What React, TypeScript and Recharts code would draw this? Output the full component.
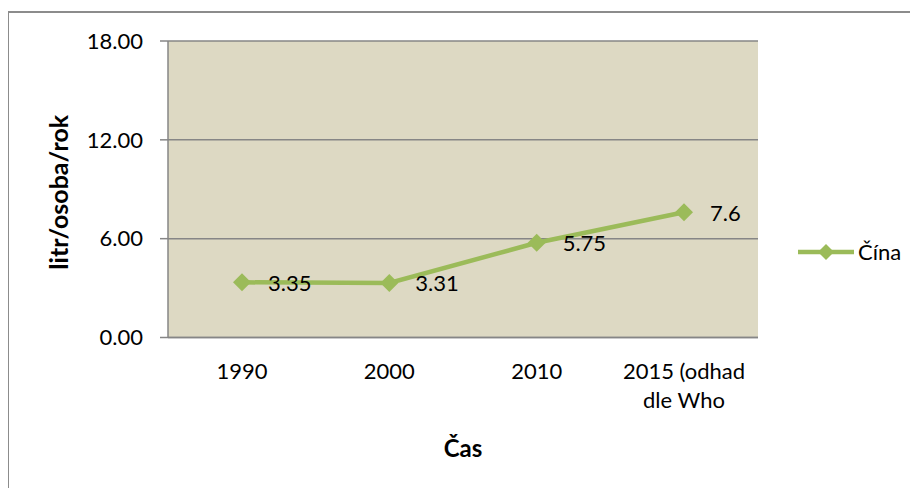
import React from "react";
import { LineChart, Line, XAxis, YAxis, CartesianGrid, Legend, LabelList, Text } from "recharts";

const categories = ["1990", "2000", "2010", "2015 (odhad dle Who"];
const cinaValues = [3.35, 3.31, 5.75, 7.6];
const yTicks = [0, 6, 12, 18];
const seriesName = "Čína";

const data = categories.map((cas, i) => ({ cas, cina: cinaValues[i] }));

const FONT = "Lato, 'Open Sans', sans-serif";
const GREEN = "#9BBB59";
const GRAY = "#868686";

function diamond(cx: number, cy: number, r: number) {
  return `M${cx},${cy - r} L${cx + r},${cy} L${cx},${cy + r} L${cx - r},${cy} Z`;
}

const DiamondDot = (props: any) => {
  const { cx, cy, index } = props;
  if (cx == null || cy == null) return null;
  return <path key={`d-${index}`} d={diamond(cx, cy, 9)} fill={GREEN} stroke="none" />;
};

const CategoryTick = (props: any) => {
  const { x, y, payload } = props;
  return (
    <Text
      x={x}
      y={y}
      width={100}
      textAnchor="middle"
      verticalAnchor="start"
      lineHeight={29}
      fill="#000"
      fontFamily={FONT}
      fontSize={22}
      style={{ fontFamily: FONT, fontSize: 22 }}
    >
      {payload.value}
    </Text>
  );
};

const ValueLabel = (props: any) => {
  const { x, y, value } = props;
  return (
    <text
      x={Number(x) + 26}
      y={Number(y)}
      dominantBaseline="central"
      fill="#000"
      fontFamily={FONT}
      fontSize={22}
    >
      {String(value)}
    </text>
  );
};

const LegendContent = () => (
  <div style={{ display: "flex", alignItems: "center", fontFamily: FONT, fontSize: 22, color: "#000" }}>
    <svg width={56} height={24}>
      <line x1={0} y1={12} x2={56} y2={12} stroke={GREEN} strokeWidth={4.5} />
      <path d={diamond(28, 12, 8)} fill={GREEN} />
    </svg>
    <span style={{ marginLeft: 4, lineHeight: "24px" }}>{seriesName}</span>
  </div>
);

export default function App() {
  return (
    <div style={{ position: "relative", width: 910, height: 480 }}>
      <div
        style={{
          position: "absolute",
          left: -1,
          top: 3,
          width: 912,
          height: 480,
          borderLeft: "2px solid #8c8c8c",
          borderTop: "2px solid #8c8c8c",
        }}
      />
      <div style={{ position: "absolute", left: 0, top: 0 }}>
        <LineChart width={902} height={472} data={data} margin={{ top: 33, right: 152, bottom: 42.5, left: 80 }}>
          <CartesianGrid vertical={false} stroke={GRAY} strokeWidth={1.5} fill="#DDD9C3" />
          <XAxis
            dataKey="cas"
            padding={{ left: 74, right: 74 }}
            height={100}
            axisLine={{ stroke: GRAY, strokeWidth: 1.5 }}
            tickLine={false}
            tickSize={0}
            tickMargin={26}
            tick={<CategoryTick />}
            interval={0}
            label={(p: any) => {
              const vb = p.viewBox;
              return (
                <text
                  x={vb.x + vb.width / 2}
                  y={vb.y + 110}
                  textAnchor="middle"
                  dominantBaseline="central"
                  fontFamily={FONT}
                  fontSize={24}
                  fontWeight="bold"
                  fill="#000"
                >
                  Čas
                </text>
              );
            }}
          />
          <YAxis
            domain={[0, 18]}
            ticks={yTicks}
            width={80}
            tickFormatter={(v: number) => v.toFixed(2)}
            axisLine={{ stroke: GRAY, strokeWidth: 1.5 }}
            tickLine={{ stroke: GRAY, strokeWidth: 1.5 }}
            tickSize={8}
            tickMargin={17}
            tick={{ fill: "#000", fontFamily: FONT, fontSize: 22 }}
            label={(p: any) => {
              const vb = p.viewBox;
              const cx = vb.x - 30;
              const cy = vb.y + vb.height / 2 + 3;
              return (
                <text
                  x={cx}
                  y={cy}
                  transform={`rotate(-90, ${cx}, ${cy})`}
                  textAnchor="middle"
                  dominantBaseline="central"
                  fontFamily={FONT}
                  fontSize={25}
                  fontWeight="bold"
                  fill="#000"
                >
                  litr/osoba/rok
                </text>
              );
            }}
          />
          <Legend
            layout="vertical"
            verticalAlign="middle"
            align="center"
            content={<LegendContent />}
            wrapperStyle={{ left: 790, top: 232, width: 110, height: 24 }}
          />
          <Line
            type="linear"
            dataKey="cina"
            name={seriesName}
            stroke={GREEN}
            strokeWidth={4.5}
            dot={<DiamondDot />}
            activeDot={false}
            isAnimationActive={false}
          >
            <LabelList dataKey="cina" content={<ValueLabel />} />
          </Line>
        </LineChart>
      </div>
    </div>
  );
}
